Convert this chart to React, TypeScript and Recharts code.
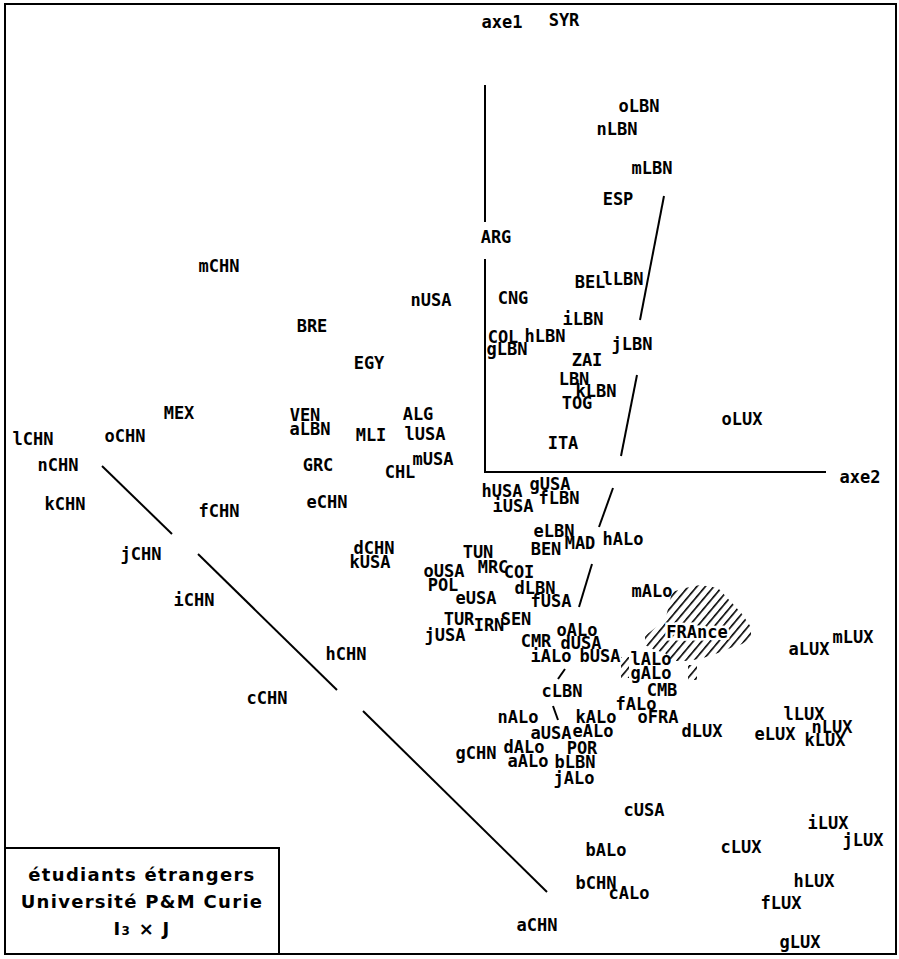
import React from 'react';
import { ComposedChart, XAxis, YAxis, Scatter, Area, ReferenceLine } from 'recharts';

// [label, axe2, axe1]
type Pt = [string, number, number];

const chnPoints: Pt[] = [
  ['aCHN', 0.52, -4.52], ['bCHN', 1.11, -4.1], ['cCHN', -2.18, -2.25], ['dCHN', -1.11, -0.75],
  ['eCHN', -1.58, -0.29], ['fCHN', -2.66, -0.38], ['gCHN', -0.09, -2.8], ['hCHN', -1.39, -1.81],
  ['iCHN', -2.91, -1.27], ['jCHN', -3.44, -0.81], ['kCHN', -4.2, -0.31], ['lCHN', -4.52, 0.34],
  ['mCHN', -2.66, 2.07], ['nCHN', -4.27, 0.08], ['oCHN', -3.6, 0.37],
];

const usaPoints: Pt[] = [
  ['aUSA', 0.66, -2.6], ['bUSA', 1.15, -1.83], ['cUSA', 1.59, -3.37], ['dUSA', 0.96, -1.7],
  ['eUSA', -0.09, -1.25], ['fUSA', 0.66, -1.28], ['gUSA', 0.65, -0.11], ['hUSA', 0.17, -0.18],
  ['iUSA', 0.28, -0.33], ['jUSA', -0.4, -1.62], ['kUSA', -1.15, -0.89], ['lUSA', -0.6, 0.39],
  ['mUSA', -0.52, 0.14], ['nUSA', -0.54, 1.73], ['oUSA', -0.41, -0.98],
];

const lbnPoints: Pt[] = [
  ['LBN', 0.89, 0.94], ['aLBN', -1.75, 0.44], ['bLBN', 0.9, -2.89], ['cLBN', 0.77, -2.18],
  ['dLBN', 0.5, -1.15], ['eLBN', 0.69, -0.58], ['fLBN', 0.74, -0.25], ['gLBN', 0.22, 1.24],
  ['hLBN', 0.6, 1.37], ['iLBN', 0.98, 1.54], ['jLBN', 1.47, 1.29], ['kLBN', 1.11, 0.82],
  ['lLBN', 1.38, 1.94], ['mLBN', 1.67, 3.05], ['nLBN', 1.32, 3.44], ['oLBN', 1.54, 3.67],
];

const aloPoints: Pt[] = [
  ['aALo', 0.43, -2.88], ['bALo', 1.21, -3.77], ['cALo', 1.44, -4.2], ['dALo', 0.39, -2.74],
  ['eALo', 1.08, -2.58], ['fALo', 1.51, -2.31], ['gALo', 1.66, -2.0], ['hALo', 1.38, -0.66],
  ['iALo', 0.66, -1.83], ['jALo', 0.89, -3.05], ['kALo', 1.11, -2.44], ['lALo', 1.66, -1.86],
  ['mALo', 1.67, -1.18], ['nALo', 0.33, -2.44], ['oALo', 0.92, -1.57],
];

const luxPoints: Pt[] = [
  ['aLUX', 3.24, -1.76], ['cLUX', 2.56, -3.74], ['dLUX', 2.17, -2.58], ['eLUX', 2.9, -2.61],
  ['fLUX', 2.96, -4.3], ['gLUX', 3.15, -4.69], ['hLUX', 3.29, -4.08], ['iLUX', 3.43, -3.5],
  ['jLUX', 3.78, -3.67], ['kLUX', 3.4, -2.67], ['lLUX', 3.19, -2.41], ['mLUX', 3.68, -1.64],
  ['nLUX', 3.47, -2.54], ['oLUX', 2.57, 0.54],
];

const countryPoints: Pt[] = [
  ['SYR', 0.79, 4.53], ['ESP', 1.33, 2.74], ['ARG', 0.11, 2.36], ['BEL', 1.05, 1.91],
  ['CNG', 0.28, 1.75], ['BRE', -1.73, 1.47], ['COL', 0.18, 1.36], ['ZAI', 1.02, 1.13],
  ['EGY', -1.16, 1.1], ['TOG', 0.92, 0.7], ['MEX', -3.06, 0.6], ['VEN', -1.8, 0.58],
  ['ALG', -0.67, 0.59], ['MLI', -1.14, 0.38], ['ITA', 0.78, 0.3], ['GRC', -1.67, 0.08],
  ['CHL', -0.85, 0.01], ['BEN', 0.61, -0.76], ['MAD', 0.95, -0.7], ['TUN', -0.07, -0.79],
  ['MRC', 0.08, -0.94], ['COI', 0.34, -0.99], ['POL', -0.42, -1.12], ['TUR', -0.26, -1.46],
  ['IRN', 0.04, -1.52], ['SEN', 0.31, -1.46], ['CMR', 0.51, -1.68], ['CMB', 1.77, -2.17],
  ['oFRA', 1.73, -2.44], ['POR', 0.97, -2.75],
];

const francePoint: Pt[] = [['FRAnce', 2.12, -1.59]];

const axisLabels: Pt[] = [['axe1', 0.17, 4.51], ['axe2', 3.75, -0.04]];

// axes and broken trend lines: [x1, y1, x2, y2]
const segments: [number, number, number, number][] = [
  [0, 3.88, 0, 2.51], [0, 2.14, 0, 0], [0, 0.01, 3.41, 0.01],
  [1.79, 2.77, 1.55, 1.53], [1.52, 0.98, 1.36, 0.17], [1.28, -0.15, 1.14, -0.54],
  [1.07, -0.91, 0.94, -1.34], [0.8, -1.96, 0.73, -2.06], [0.68, -2.33, 0.73, -2.47],
  [-3.83, 0.07, -3.13, -0.61], [-2.87, -0.81, -1.48, -2.17], [-1.22, -2.38, 0.62, -4.19],
];

// hatched FRAnce zone: x, [low, high]
const franceZone = [
  { x: 1.6, range: [-1.72, -1.63] },
  { x: 1.7, range: [-1.77, -1.55] },
  { x: 1.8, range: [-1.8, -1.48] },
  { x: 1.87, range: [-1.88, -1.19] },
  { x: 2.0, range: [-1.88, -1.15] },
  { x: 2.15, range: [-1.86, -1.12] },
  { x: 2.33, range: [-1.8, -1.15] },
  { x: 2.48, range: [-1.74, -1.31] },
  { x: 2.57, range: [-1.71, -1.41] },
  { x: 2.66, range: [-1.65, -1.54] },
];
const zoneLeftBit = [
  { x: 1.36, range: [-2.05, -1.84] },
  { x: 1.44, range: [-2.05, -1.84] },
];
const zoneRightBit = [
  { x: 2.03, range: [-2.07, -1.92] },
  { x: 2.12, range: [-2.07, -1.92] },
];

const toRows = (pts: Pt[]) => pts.map(([name, x, y]) => ({ name, x, y }));

const LabelMark = (props: any) => {
  const { cx, cy, payload } = props;
  const halo = payload.name === 'FRAnce';
  return (
    <text
      x={cx}
      y={cy + 6}
      textAnchor="middle"
      fontFamily="DejaVu Sans Mono"
      fontWeight="bold"
      fontSize={17}
      fill="#000"
      stroke={halo ? '#fff' : 'none'}
      strokeWidth={halo ? 5 : 0}
      paintOrder="stroke"
    >
      {payload.name}
    </text>
  );
};

const groups = [chnPoints, usaPoints, lbnPoints, aloPoints, luxPoints, countryPoints, axisLabels];

export default function App() {
  return (
    <div style={{ position: 'absolute', left: 0, top: 0, width: 899, height: 959, background: '#fff' }}>
      <ComposedChart width={899} height={959} margin={{ top: 0, right: 0, bottom: 0, left: 0 }}>
        <defs>
          <pattern id="hatch" width="6.5" height="6.5" patternUnits="userSpaceOnUse" patternTransform="rotate(40)">
            <line x1="0" y1="0" x2="0" y2="6.5" stroke="#000" strokeWidth="3.2" />
          </pattern>
        </defs>
        <XAxis type="number" dataKey="x" domain={[-4.85, 4.14]} hide allowDataOverflow />
        <YAxis type="number" dataKey="y" domain={[-4.86, 4.73]} hide allowDataOverflow />
        {[franceZone, zoneLeftBit, zoneRightBit].map((d, i) => (
          <Area
            key={`zone-${i}`}
            data={d}
            dataKey="range"
            type="linear"
            stroke="none"
            fill="url(#hatch)"
            fillOpacity={1}
            dot={false}
            activeDot={false}
            isAnimationActive={false}
          />
        ))}
        {segments.map(([x1, y1, x2, y2], i) => (
          <ReferenceLine
            key={`seg-${i}`}
            segment={[{ x: x1, y: y1 }, { x: x2, y: y2 }]}
            stroke="#000"
            strokeWidth={2}
          />
        ))}
        {groups.map((g, i) => (
          <Scatter key={`grp-${i}`} data={toRows(g)} shape={LabelMark} isAnimationActive={false} />
        ))}
        <Scatter data={toRows(francePoint)} shape={LabelMark} isAnimationActive={false} />
      </ComposedChart>
      <div
        style={{
          position: 'absolute', left: 4, top: 3, width: 893, height: 952,
          border: '2px solid #000', boxSizing: 'border-box', pointerEvents: 'none',
        }}
      />
      <div
        style={{
          position: 'absolute', left: 4, top: 847, width: 276, height: 108,
          border: '2px solid #000', boxSizing: 'border-box', background: '#fff',
          fontFamily: 'DejaVu Sans', fontWeight: 'bold', fontSize: 18, textAlign: 'center',
          lineHeight: '27px', paddingTop: 12, letterSpacing: 1.3,
        }}
      >
        <div>étudiants étrangers</div>
        <div>Université P&amp;M Curie</div>
        <div>
          I<span style={{ fontSize: 12 }}>3</span> × J
        </div>
      </div>
    </div>
  );
}
